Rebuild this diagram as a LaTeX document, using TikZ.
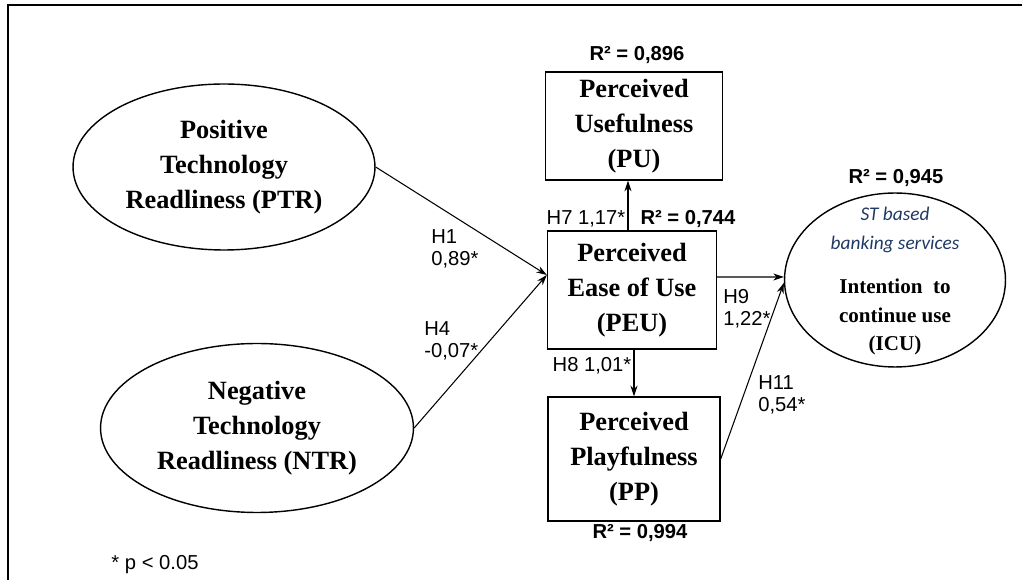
\documentclass[tikz,border=0pt]{standalone}
\usepackage{fontspec}
\setmainfont{Liberation Sans}
\newfontfamily\boxfont{Liberation Serif}
\newfontfamily\noteit{Carlito}
\usepackage{tikz}
\usetikzlibrary{shapes.geometric, positioning, arrows.meta}
\definecolor{navy}{RGB}{31,56,100}

\begin{document}
\begin{tikzpicture}[x=0.02cm, y=-0.02cm,
    construct/.style={draw, line width=0.8pt, align=center, inner sep=0pt,
        font=\boxfont\bfseries\fontsize{15}{20}\selectfont},
    latent/.style={construct, ellipse},
    path/.style={line width=0.6pt, -{Stealth[length=6pt,width=4pt]}},
    coef/.style={font=\fontsize{11.5}{12.5}\selectfont, align=left, inner sep=0pt},
    rsq/.style={font=\bfseries\fontsize{11.5}{13}\selectfont, inner sep=0pt}]
        \useasboundingbox (0,0) rectangle (1022,580);
        % Frame
        \draw[line width=1.2pt] (1022,5) -- (8,5) -- (8,580);
        % Readiness constructs
        \node[latent, minimum width=6.04cm, minimum height=3.32cm] (ptr) at (224,167)
            {Positive\\Technology\\Readliness (PTR)};
        \node[latent, minimum width=6.26cm, minimum height=3.38cm] (ntr) at (257,428)
            {Negative\\Technology\\Readliness (NTR)};
        % Perception constructs
        \node[construct, rectangle, minimum width=3.54cm, minimum height=2.16cm] (pu) at (634,126)
            {Perceived\\Usefulness\\(PU)};
        \node[construct, rectangle, minimum width=3.38cm, minimum height=2.36cm] (peu) at (632,290)
            {Perceived\\Ease of Use\\(PEU)};
        \node[construct, rectangle, minimum width=3.44cm, minimum height=2.48cm] (pp) at (634,459)
            {Perceived\\Playfulness\\(PP)};
        % Intention construct
        \node[draw, ellipse, line width=0.8pt, minimum width=4.42cm, minimum height=3.48cm] (icu) at (895,280) {};
        \node[align=center, text=navy, font=\noteit\itshape\fontsize{11}{16.4}\selectfont] (icust) at (895,230)
            {ST based\\banking services};
        \node[align=center, font=\boxfont\bfseries\fontsize{12}{16}\selectfont] (icutxt) at (895,317)
            {Intention~~to\\continue use\\(ICU)};
        % Paths
        \draw[path] (ptr.east) -- ([yshift=0.3cm]peu.west);
        \draw[path] (ntr.east) -- ([yshift=0.3cm]peu.west);
        \draw[path] ([xshift=-0.08cm]peu.north) -- ([xshift=-0.08cm]peu.north |- pu.south);
        \draw[path] ([xshift=0.04cm]peu.south) -- ([xshift=0.04cm]peu.south |- pp.north);
        \draw[path] ([yshift=0.26cm]peu.east) -- ([yshift=0.06cm]icu.west);
        \draw[path] (pp.east) -- ([yshift=-0.06cm]icu.west);
        % Coefficients
        \node[coef, anchor=west] (h1) at (431,249) {H1\\0,89*};
        \node[coef, anchor=west] (h4) at (424,341) {H4\\-0,07*};
        \node[coef] (h7) at (586,219) {H7 1,17*};
        \node[coef] (h8) at (592,366) {H8 1,01*};
        \node[coef, anchor=west] (h9) at (723,309) {H9\\1,22*};
        \node[coef, anchor=west] (h11) at (758,395) {H11\\0,54*};
        % Explained variance
        \node[rsq] (rpu) at (637,55) {R² = 0,896};
        \node[rsq] (rpeu) at (688,219) {R² = 0,744};
        \node[rsq] (ricu) at (896,178) {R² = 0,945};
        \node[rsq] (rpp) at (640,533) {R² = 0,994};
        % Note
        \node[coef] (note) at (155,565) {* p < 0.05};
\end{tikzpicture}
\end{document}
